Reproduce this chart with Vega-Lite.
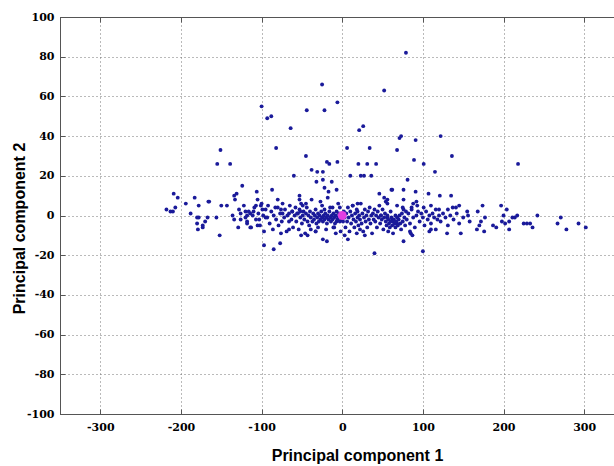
{
  "$schema": "https://vega.github.io/schema/vega-lite/v6.json",
  "width": 554,
  "height": 397,
  "autosize": {"type": "none"},
  "padding": {"left": 60, "top": 17, "right": 0, "bottom": 52},
  "background": "white",
  "datasets": {
    "pts": [
      {"x":-100,"y":55},{"x":-93,"y":49},{"x":-88,"y":50},{"x":-64,"y":44},{"x":-44,"y":53},{"x":-25,"y":66},{"x":-22,"y":53},{"x":-6,"y":57},{"x":52,"y":63},{"x":21,"y":43},{"x":26,"y":45},{"x":71,"y":39},{"x":-151,"y":33},{"x":-82,"y":34},{"x":-45,"y":30},{"x":6,"y":34},{"x":34,"y":34},{"x":68,"y":33},{"x":79,"y":82},{"x":73,"y":40},{"x":91,"y":38},{"x":122,"y":40},
      {"x":-155,"y":26},{"x":-139,"y":26},{"x":-19,"y":27},{"x":-16,"y":26},{"x":-6,"y":27},{"x":20,"y":26},{"x":31,"y":26},{"x":42,"y":26},{"x":-38,"y":23},{"x":-31,"y":22},{"x":-24,"y":22},{"x":-60,"y":20},{"x":10,"y":20},{"x":23,"y":20},{"x":27,"y":20},{"x":36,"y":20},{"x":-24,"y":18},{"x":-13,"y":17},{"x":-124,"y":15},{"x":-87,"y":13},{"x":-32,"y":17},{"x":-22,"y":14},{"x":-17,"y":12},{"x":-7,"y":13},{"x":-53,"y":10},
      {"x":89,"y":28},{"x":101,"y":26},{"x":136,"y":30},{"x":218,"y":26},{"x":115,"y":22},{"x":81,"y":18},{"x":62,"y":13},{"x":76,"y":13},{"x":91,"y":12},{"x":107,"y":11},{"x":121,"y":10},{"x":135,"y":10},
      {"x":-209,"y":11},{"x":-204,"y":9},{"x":-194,"y":6},{"x":-183,"y":9},{"x":-165,"y":7},{"x":-218,"y":3},{"x":-213,"y":2},{"x":-210,"y":2},{"x":-207,"y":4},{"x":-188,"y":1},{"x":-178,"y":5},{"x":-180,"y":-1},{"x":-178,"y":-1},{"x":-167,"y":-1},{"x":-170,"y":-3},{"x":-180,"y":-4},{"x":-173,"y":-6},{"x":-179,"y":-7},{"x":-156,"y":-1},{"x":-152,"y":-10},
      {"x":-166,"y":7},{"x":-173,"y":-5},{"x":-150,"y":5},{"x":-143,"y":5},{"x":-134,"y":10},{"x":-133,"y":8},{"x":-131,"y":11},{"x":-136,"y":0},{"x":-134,"y":-2},{"x":-126,"y":1},{"x":-120,"y":2},{"x":-118,"y":0},{"x":-114,"y":1},{"x":-110,"y":2},{"x":-118,"y":-4},{"x":-114,"y":-6},{"x":-129,"y":-6},{"x":-106,"y":12},{"x":-105,"y":8},{"x":-107,"y":5},{"x":-101,"y":5},{"x":-99,"y":3},{"x":-95,"y":-1},{"x":-103,"y":-2},{"x":-105,"y":-5},{"x":-85,"y":-17},{"x":-77,"y":-14},{"x":-76,"y":-9},{"x":-66,"y":-7},{"x":-80,"y":4},{"x":-76,"y":3},{"x":-74,"y":1},{"x":-66,"y":1},{"x":-62,"y":2},{"x":-56,"y":1},{"x":-52,"y":2},{"x":-53,"y":8},{"x":-49,"y":5},{"x":-45,"y":6},{"x":-24,"y":-12},{"x":-19,"y":-13},{"x":-2,"y":-8},{"x":3,"y":-10},{"x":7,"y":-12},{"x":-7,"y":-3},{"x":-11,"y":-6},{"x":13,"y":5},{"x":19,"y":6},{"x":19,"y":2},{"x":18,"y":-9},{"x":22,"y":-7},{"x":28,"y":-10},{"x":40,"y":-19},{"x":46,"y":11},{"x":52,"y":9},{"x":56,"y":6},{"x":61,"y":13},{"x":48,"y":0},{"x":56,"y":-1},{"x":62,"y":-2},{"x":68,"y":-4},{"x":-51,"y":-10},{"x":-43,"y":-10},{"x":-39,"y":-7},{"x":-33,"y":-8},{"x":-97,"y":-15},
      {"x":54,"y":7},{"x":56,"y":8},{"x":76,"y":8},{"x":88,"y":6},{"x":75,"y":4},{"x":86,"y":4},{"x":93,"y":5},{"x":101,"y":4},{"x":110,"y":5},{"x":120,"y":3},{"x":131,"y":3},{"x":137,"y":4},{"x":141,"y":4},{"x":145,"y":5},{"x":156,"y":0},{"x":168,"y":2},{"x":174,"y":5},{"x":177,"y":-1},{"x":197,"y":5},{"x":204,"y":3},{"x":200,"y":0},{"x":211,"y":-1},{"x":214,"y":-1},{"x":217,"y":0},{"x":242,"y":0},{"x":271,"y":-1},{"x":172,"y":-3},{"x":198,"y":-3},{"x":207,"y":-3},{"x":167,"y":-7},{"x":170,"y":-5},{"x":176,"y":-8},{"x":187,"y":-5},{"x":191,"y":-6},{"x":202,"y":-4},{"x":207,"y":-7},{"x":225,"y":-4},{"x":229,"y":-4},{"x":233,"y":-4},{"x":236,"y":-6},{"x":267,"y":-4},{"x":278,"y":-7},{"x":293,"y":-4},{"x":302,"y":-6},{"x":147,"y":-9},{"x":130,"y":-9},{"x":108,"y":-8},{"x":110,"y":-7},{"x":116,"y":-7},{"x":85,"y":-9},{"x":87,"y":-10},{"x":76,"y":-13},{"x":100,"y":-18},{"x":65,"y":-4},
      {"x":-128,"y":3},{"x":-126,"y":-2},{"x":-122,"y":5},{"x":-120,"y":-1},{"x":-118,"y":-3},{"x":-116,"y":2},{"x":-113,"y":-6},{"x":-111,"y":0},{"x":-109,"y":4},{"x":-107,"y":-2},{"x":-104,"y":1},{"x":-102,"y":-5},{"x":-100,"y":6},{"x":-98,"y":0},{"x":-97,"y":-8},{"x":-95,"y":3},
      {"x":-93,"y":-1},{"x":-92,"y":5},{"x":-90,"y":-4},{"x":-88,"y":2},{"x":-86,"y":-7},{"x":-85,"y":0},{"x":-83,"y":4},{"x":-82,"y":-2},{"x":-80,"y":8},{"x":-79,"y":-5},{"x":-77,"y":1},{"x":-75,"y":-3},{"x":-74,"y":6},{"x":-72,"y":-1},{"x":-71,"y":3},{"x":-69,"y":-8},{"x":-68,"y":0},{"x":-66,"y":-3},{"x":-65,"y":5},{"x":-63,"y":-2},{"x":-62,"y":2},{"x":-61,"y":-6},
      {"x":-59,"y":0},{"x":-58,"y":4},{"x":-57,"y":-3},{"x":-55,"y":1},{"x":-54,"y":-7},{"x":-53,"y":3},{"x":-52,"y":-1},{"x":-51,"y":6},{"x":-50,"y":-4},{"x":-49,"y":0},{"x":-48,"y":2},{"x":-47,"y":-2},{"x":-46,"y":-9},{"x":-45,"y":1},{"x":-44,"y":4},{"x":-43,"y":-3},{"x":-42,"y":0},{"x":-41,"y":-5},{"x":-40,"y":2},{"x":-39,"y":-1},{"x":-38,"y":8},{"x":-37,"y":-3},{"x":-36,"y":1},
      {"x":-35,"y":-2},{"x":-34,"y":0},{"x":-33,"y":3},{"x":-32,"y":-4},{"x":-31,"y":-1},{"x":-30,"y":1},{"x":-29,"y":-3},{"x":-28,"y":0},{"x":-27,"y":-2},{"x":-26,"y":2},{"x":-25,"y":-1},{"x":-24,"y":-3},{"x":-23,"y":0},{"x":-22,"y":-2},{"x":-21,"y":1},{"x":-20,"y":-1},{"x":-19,"y":-4},{"x":-18,"y":0},{"x":-17,"y":-2},{"x":-16,"y":2},{"x":-15,"y":-1},{"x":-14,"y":-3},{"x":-13,"y":0},{"x":-12,"y":-2},{"x":-11,"y":1},{"x":-10,"y":-1},{"x":-9,"y":-4},{"x":-8,"y":0},{"x":-7,"y":2},{"x":-6,"y":-2},{"x":-5,"y":-1},{"x":-4,"y":1},{"x":-3,"y":-3},{"x":-2,"y":0},{"x":-1,"y":-2},{"x":-30,"y":-6},{"x":-25,"y":5},{"x":-20,"y":-7},{"x":-15,"y":4},{"x":-10,"y":-6},{"x":-5,"y":6},{"x":-27,"y":7},{"x":-18,"y":9},{"x":-8,"y":-9},{"x":-33,"y":-8},{"x":-22,"y":3},{"x":-12,"y":4},{"x":-3,"y":4},
      {"x":1,"y":-3},{"x":2,"y":2},{"x":3,"y":-1},{"x":4,"y":-6},{"x":5,"y":1},{"x":6,"y":-3},{"x":7,"y":4},{"x":8,"y":-1},{"x":9,"y":-8},{"x":10,"y":2},{"x":11,"y":-4},{"x":12,"y":0},{"x":13,"y":5},{"x":14,"y":-2},{"x":15,"y":-6},{"x":16,"y":1},{"x":17,"y":-3},{"x":18,"y":3},{"x":19,"y":-1},{"x":20,"y":-5},{"x":21,"y":0},{"x":22,"y":-2},{"x":23,"y":6},{"x":24,"y":-4},{"x":25,"y":1},{"x":26,"y":-8},{"x":27,"y":-1},{"x":28,"y":3},{"x":29,"y":-3},{"x":30,"y":0},{"x":31,"y":-6},{"x":32,"y":2},{"x":33,"y":-2},{"x":34,"y":4},{"x":35,"y":-4},{"x":36,"y":0},{"x":37,"y":-9},{"x":38,"y":1},{"x":39,"y":-2},
      {"x":40,"y":3},{"x":41,"y":-3},{"x":42,"y":0},{"x":43,"y":-6},{"x":44,"y":2},{"x":45,"y":-1},{"x":46,"y":5},{"x":47,"y":-4},{"x":48,"y":0},{"x":49,"y":-2},{"x":50,"y":3},{"x":51,"y":-7},{"x":52,"y":-1},{"x":53,"y":1},{"x":54,"y":-3},{"x":55,"y":-5},{"x":56,"y":0},{"x":57,"y":-2},{"x":58,"y":-4},{"x":59,"y":-6},{"x":60,"y":-3},{"x":61,"y":-1},{"x":62,"y":-5},{"x":63,"y":-3},{"x":64,"y":-2},{"x":65,"y":-4},{"x":66,"y":-6},{"x":67,"y":-3},{"x":68,"y":-1},{"x":69,"y":-5},{"x":70,"y":-2},{"x":71,"y":0},{"x":72,"y":-4},{"x":73,"y":-7},{"x":74,"y":1},{"x":75,"y":-3},{"x":76,"y":3},{"x":77,"y":-1},{"x":78,"y":-5},{"x":79,"y":2},{"x":57,"y":-8},{"x":63,"y":-9},{"x":68,"y":5},{"x":60,"y":2},{"x":66,"y":0},
      {"x":80,"y":-2},{"x":82,"y":1},{"x":84,"y":-4},{"x":86,"y":3},{"x":88,"y":-1},{"x":90,"y":-6},{"x":92,"y":0},{"x":94,"y":2},{"x":96,"y":-3},{"x":98,"y":1},{"x":100,"y":-1},{"x":102,"y":-5},{"x":104,"y":2},{"x":106,"y":-2},{"x":108,"y":0},{"x":110,"y":-4},{"x":112,"y":1},{"x":114,"y":-1},{"x":116,"y":3},{"x":118,"y":-2},{"x":120,"y":0},{"x":92,"y":7},{"x":84,"y":-8},
      {"x":122,"y":-3},{"x":125,"y":1},{"x":128,"y":-1},{"x":131,"y":-5},{"x":134,"y":0},{"x":138,"y":-2},{"x":142,"y":1},{"x":145,"y":-4},{"x":150,"y":-1},{"x":155,"y":2},{"x":158,"y":-3}
    ],
    "center": [{"x": 0, "y": 0}]
  },
  "layer": [
    {
      "data": {"name": "pts"},
      "mark": {"type": "point", "filled": true, "shape": "circle", "size": 15, "color": "#1a1a9a", "opacity": 1, "clip": true},
      "encoding": {
        "x": {
          "field": "x", "type": "quantitative",
          "scale": {"domain": [-350, 337], "nice": false, "zero": false},
          "axis": {
            "orient": "bottom",
            "values": [-300, -200, -100, 0, 100, 200, 300],
            "labelPadding": 12,
            "labelOverlap": false,
            "title": "Principal component 1",
            "titleX": 297,
            "titleY": 33,
            "titleAlign": "center",
            "titleBaseline": "top"
          }
        },
        "y": {
          "field": "y", "type": "quantitative",
          "scale": {"domain": [-100, 100], "nice": false, "zero": false},
          "axis": {
            "values": [-100, -80, -60, -40, -20, 0, 20, 40, 60, 80, 100],
            "labelPadding": 11,
            "labelOverlap": false,
            "title": "Principal component 2",
            "titleX": -33,
            "titleY": 211,
            "titleAngle": -90,
            "titleAlign": "center",
            "titleBaseline": "bottom"
          }
        }
      }
    },
    {
      "data": {"name": "center"},
      "mark": {"type": "point", "filled": true, "shape": "circle", "size": 80, "color": "#e23ee2", "opacity": 1},
      "encoding": {
        "x": {
          "field": "x", "type": "quantitative",
          "axis": {"orient": "top", "values": [-300, -200, -100, 0, 100, 200, 300], "labels": false, "grid": false, "title": null}
        },
        "y": {
          "field": "y", "type": "quantitative",
          "axis": {
            "values": [-100, -80, -60, -40, -20, 0, 20, 40, 60, 80, 100],
            "labelPadding": 11,
            "labelOverlap": false,
            "title": "Principal component 2",
            "titleX": -33,
            "titleY": 211,
            "titleAngle": -90,
            "titleAlign": "center",
            "titleBaseline": "bottom"
          }
        }
      }
    }
  ],
  "resolve": {"axis": {"x": "independent"}},
  "config": {
    "view": {"stroke": "#555", "strokeWidth": 1},
    "axis": {
      "domainColor": "#555",
      "domainWidth": 1,
      "tickColor": "#555",
      "tickSize": -5,
      "tickWidth": 1,
      "grid": true,
      "gridColor": "#666",
      "gridDash": [1, 3],
      "gridWidth": 1,
      "gridOpacity": 0.9,
      "labelFont": "DejaVu Serif",
      "labelFontWeight": "bold",
      "labelFontSize": 11,
      "labelColor": "#000",
      "labelOverlap": false,
      "labelBound": false,
      "labelFlush": false,
      "labelExpr": "replace(datum.label, '−', '-')",
      "titleFont": "Liberation Sans",
      "titleFontWeight": "bold",
      "titleFontSize": 16,
      "titleColor": "#000"
    }
  }
}
